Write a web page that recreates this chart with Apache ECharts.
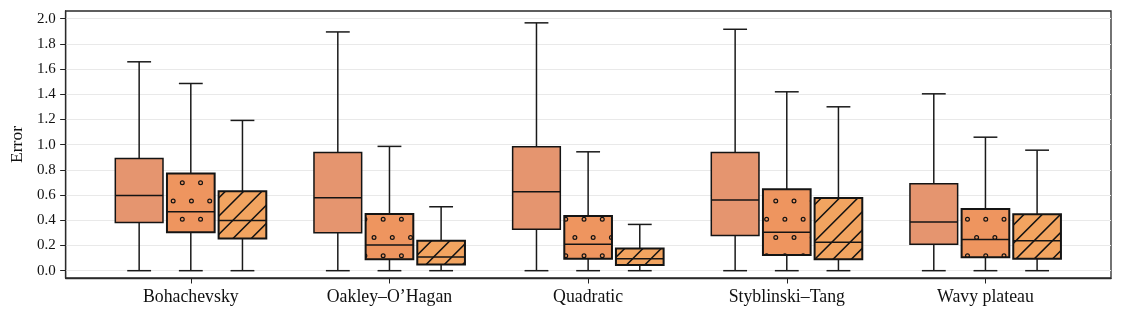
<!DOCTYPE html>
<html>
<head>
<meta charset="utf-8">
<script src="https://cdn.jsdelivr.net/npm/echarts@6/dist/echarts.min.js"></script>
<style>
html,body{margin:0;padding:0;background:#fff;}
#chart{width:1122px;height:317px;}
</style>
</head>
<body>
<div id="chart"></div>
<script>
// ---- data ----
const categories = ['Bohachevsky', 'Oakley\u2013O\u2019Hagan', 'Quadratic', 'Styblinski\u2013Tang', 'Wavy plateau'];
// each entry: [low, q1, median, q3, high]
const boxesPlain = [
  [0, 0.383, 0.597, 0.890, 1.657],
  [0, 0.301, 0.579, 0.938, 1.894],
  [0, 0.328, 0.626, 0.983, 1.966],
  [0, 0.280, 0.560, 0.938, 1.915],
  [0, 0.209, 0.386, 0.690, 1.403]
];
const boxesDots = [
  [0, 0.304, 0.468, 0.771, 1.485],
  [0, 0.090, 0.203, 0.449, 0.986],
  [0, 0.095, 0.209, 0.433, 0.943],
  [0, 0.124, 0.304, 0.647, 1.419],
  [0, 0.106, 0.248, 0.489, 1.059]
];
const boxesHatch = [
  [0, 0.256, 0.399, 0.631, 1.192],
  [0, 0.050, 0.108, 0.238, 0.507],
  [0, 0.045, 0.095, 0.177, 0.367],
  [0, 0.090, 0.225, 0.576, 1.300],
  [0, 0.095, 0.238, 0.447, 0.956]
];
const yTicks = [0, 0.2, 0.4, 0.6, 0.8, 1.0, 1.2, 1.4, 1.6, 1.8, 2.0];

// ---- styling ----
const W = 1122, H = 317;
const fills = ['#E5956F', '#EE955F', '#F2A460'];
const offsets = [-0.26, 0, 0.26];
const boxW = 0.24;
const capW = 0.12;
const edgeWidths = [1.5, 2, 2];
const P = 18.26;

function makeDots() {
  const c = document.createElement('canvas');
  c.width = W; c.height = H;
  const g = c.getContext('2d');
  g.strokeStyle = '#111'; g.lineWidth = 1.2;
  const x0 = 182.3, y0 = 182.7;
  for (let r = -12; r <= 12; r++) {
    const y = y0 + r * P;
    const sh = (Math.abs(r) % 2 === 1) ? P / 2 : 0;
    for (let m = -12; m <= 70; m++) {
      const x = x0 + sh + m * P;
      g.beginPath(); g.arc(x, y, 1.9, 0, Math.PI * 2); g.stroke();
    }
  }
  return c;
}
function makeHatch() {
  const c = document.createElement('canvas');
  c.width = W; c.height = H;
  const g = c.getContext('2d');
  g.strokeStyle = '#111'; g.lineWidth = 1.5;
  const c0 = 416.7;
  for (let k = -30; k <= 90; k++) {
    const cc = c0 + k * P;
    g.beginPath(); g.moveTo(cc + 20, -20); g.lineTo(cc - 400, 400); g.stroke();
  }
  return c;
}
const patterns = [null, {image: makeDots(), repeat: 'no-repeat'}, {image: makeHatch(), repeat: 'no-repeat'}];

function toData(arr) { return arr.map((b, i) => [i].concat(b)); }

function makeRender(s) {
  return function (params, api) {
    const xc = api.value(0) + offsets[s];
    const low = api.value(1), q1 = api.value(2), med = api.value(3), q3 = api.value(4), high = api.value(5);
    const pL = api.coord([xc, low]);
    const pQ1 = api.coord([xc, q1]);
    const pM = api.coord([xc, med]);
    const pQ3 = api.coord([xc, q3]);
    const pH = api.coord([xc, high]);
    const hw = api.size([boxW, 0])[0] / 2;
    const cw = api.size([capW, 0])[0] / 2;
    const lineStyle = {stroke: '#1a1a1a', lineWidth: 1.5, fill: null};
    const children = [
      {type: 'line', shape: {x1: pL[0], y1: pL[1], x2: pQ1[0], y2: pQ1[1]}, style: lineStyle},
      {type: 'line', shape: {x1: pQ3[0], y1: pQ3[1], x2: pH[0], y2: pH[1]}, style: lineStyle},
      {type: 'line', shape: {x1: pL[0] - cw, y1: pL[1], x2: pL[0] + cw, y2: pL[1]}, style: lineStyle},
      {type: 'line', shape: {x1: pH[0] - cw, y1: pH[1], x2: pH[0] + cw, y2: pH[1]}, style: lineStyle},
      {type: 'rect', shape: {x: pQ3[0] - hw, y: pQ3[1], width: hw * 2, height: pQ1[1] - pQ3[1]},
        style: {fill: fills[s], stroke: null}}
    ];
    if (patterns[s]) {
      children.push({type: 'rect', shape: {x: pQ3[0] - hw, y: pQ3[1], width: hw * 2, height: pQ1[1] - pQ3[1]},
        style: {fill: patterns[s], stroke: null}});
    }
    children.push({type: 'rect', shape: {x: pQ3[0] - hw, y: pQ3[1], width: hw * 2, height: pQ1[1] - pQ3[1]},
      style: {fill: null, stroke: '#141414', lineWidth: edgeWidths[s]}});
    children.push({type: 'line', shape: {x1: pM[0] - hw, y1: pM[1], x2: pM[0] + hw, y2: pM[1]},
      style: {stroke: '#141414', lineWidth: 1.5}});
    return {type: 'group', children: children};
  };
}

const chart = echarts.init(document.getElementById('chart'), null, {renderer: 'canvas'});
const serif = '"Liberation Serif", "DejaVu Serif", serif';
const option = {
  animation: false,
  backgroundColor: '#ffffff',
  grid: {left: 63, right: 11, top: 11, bottom: 39, show: true, borderColor: '#2a2a2a', borderWidth: 1.3, backgroundColor: 'transparent'},
  xAxis: {
    type: 'value', min: -0.63, max: 4.632,
    axisLine: {show: true, onZero: false, lineStyle: {color: '#2a2a2a', width: 1.3}},
    axisTick: {show: true, length: 5.5, customValues: [0, 1, 2, 3, 4], lineStyle: {color: '#222', width: 1}},
    axisLabel: {show: true, customValues: [0, 1, 2, 3, 4], formatter: v => categories[Math.round(v)],
      fontFamily: serif, fontSize: 17.8, color: '#111', margin: 10},
    splitLine: {show: false}
  },
  yAxis: {
    type: 'value', min: -0.058, max: 2.06,
    name: 'Error', nameLocation: 'middle', nameGap: 38,
    nameTextStyle: {fontFamily: serif, fontSize: 17.5, color: '#111'},
    axisLine: {show: true, onZero: false, lineStyle: {color: '#2a2a2a', width: 1.3}},
    axisTick: {show: true, length: 5.5, customValues: yTicks, lineStyle: {color: '#222', width: 1}},
    axisLabel: {show: true, customValues: yTicks, formatter: v => v.toFixed(1),
      fontFamily: serif, fontSize: 15, color: '#111', margin: 10},
    splitLine: {show: true, lineStyle: {color: '#e9e9e9', width: 1.2}}
  },
  series: [boxesPlain, boxesDots, boxesHatch].map((arr, s) => ({
    type: 'custom',
    name: ['Plain', 'Dots', 'Hatch'][s],
    renderItem: makeRender(s),
    encode: {x: 0, y: [1, 2, 3, 4, 5]},
    data: toData(arr),
    clip: false,
    z: 2
  }))
};
chart.setOption(option);
</script>
</body>
</html>
